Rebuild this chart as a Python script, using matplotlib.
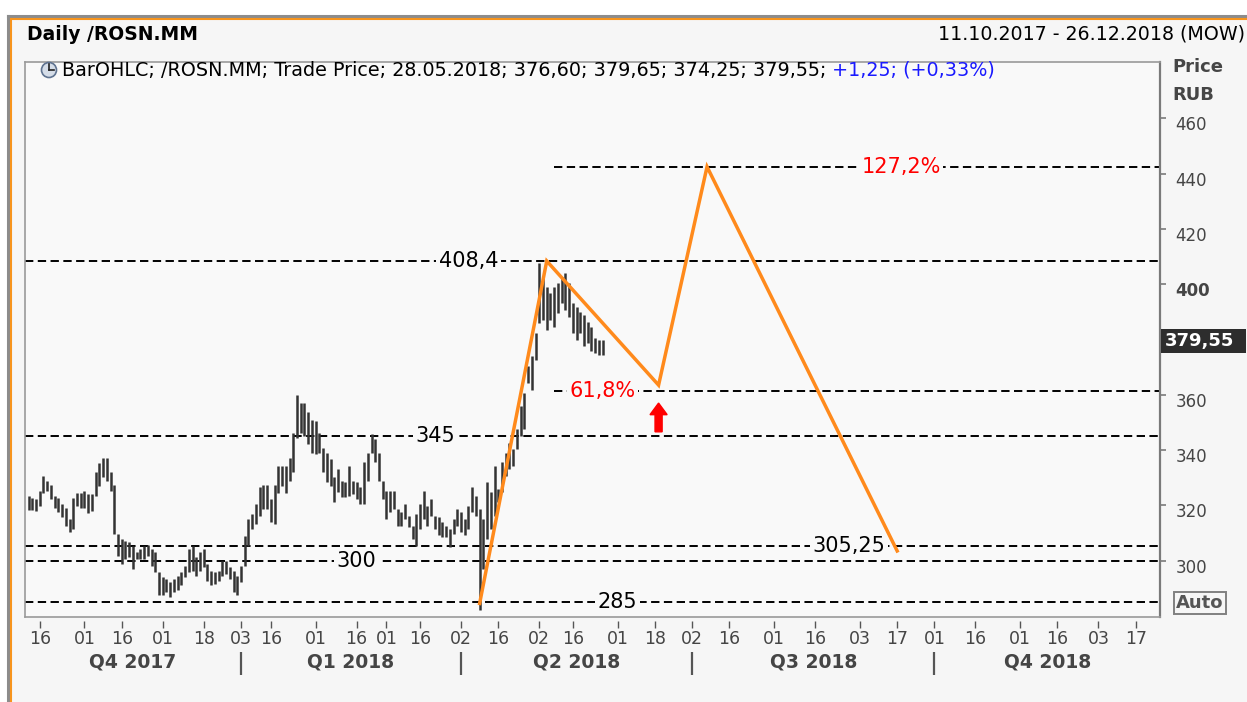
import numpy as np
import pandas as pd
import matplotlib
matplotlib.use("Agg")
import matplotlib.pyplot as plt
from matplotlib.patches import Rectangle, Ellipse, FancyArrow
from matplotlib.lines import Line2D
from matplotlib.transforms import ScaledTranslation

plt.rcParams["font.family"] = ["DejaVu Sans"]
plt.rcParams["lines.scale_dashes"] = False

# trading calendar shown on the time axis (weekdays minus exchange holidays)
holidays = ["2017-11-06", "2018-01-01", "2018-01-02", "2018-01-08", "2018-02-23",
            "2018-03-08", "2018-03-09", "2018-05-01", "2018-05-09", "2018-06-12",
            "2018-11-05"]
days = pd.bdate_range("2017-10-11", "2018-12-26", freq="C", holidays=holidays)
pos = {d.strftime("%Y-%m-%d"): i for i, d in enumerate(days)}

# daily bars 11.10.2017 - 28.05.2018
highs = [323.2, 322.5, 322.3, 325.2, 330.6, 328.8, 327.3, 323.4, 322.5, 320.4,
         319.2, 315.0, 322.5, 324.6, 324.6, 325.2, 324.0, 324.0, 332.1, 335.2,
         337.3, 337.3, 332.1, 327.3, 309.6, 307.8, 307.2, 306.6, 305.4, 303.0,
         304.2, 305.4, 305.6, 304.2, 303.0, 295.8, 294.0, 293.4, 292.2, 293.4,
         294.6, 295.8, 298.2, 304.2, 305.4, 301.2, 303.0, 304.2, 298.8, 296.4,
         295.8, 296.4, 300.0, 300.0, 297.6, 296.4, 294.6, 298.2, 309.0, 315.0,
         316.8, 320.4, 326.5, 327.3, 327.3, 322.2, 327.3, 334.1, 334.1, 334.1,
         337.3, 346.3, 360.1, 357.1, 357.1, 353.7, 351.0, 350.5, 346.3, 340.9,
         339.1, 336.7, 330.1, 333.1, 328.9, 328.3, 334.3, 328.9, 328.3, 326.5,
         335.5, 339.1, 345.7, 343.9, 339.1, 328.9, 325.3, 325.3, 325.3, 318.7,
         317.5, 320.5, 316.3, 312.7, 316.9, 320.5, 325.3, 319.9, 322.3, 316.3,
         315.7, 313.9, 312.7, 311.5, 315.1, 318.7, 317.5, 315.1, 319.9, 326.5,
         323.5, 318.7, 315.1, 328.3, 324.7, 334.3, 325.8, 335.5, 339.1, 342.7,
         340.3, 347.5, 355.9, 360.7, 370.3, 373.9, 382.3, 407.5, 402.1, 399.1,
         396.7, 399.1, 400.3, 402.7, 403.9, 400.3, 393.1, 391.9, 390.1, 388.9,
         386.5, 384.7, 380.5, 379.9, 379.65]
lows = [318.4, 318.3, 317.9, 319.8, 324.6, 325.2, 322.3, 319.2, 317.7, 315.6,
        312.4, 310.4, 311.4, 319.8, 319.2, 319.2, 317.2, 318.0, 323.4, 327.0,
        330.1, 328.9, 325.2, 309.6, 301.8, 298.8, 300.6, 301.2, 297.0, 300.6,
        300.6, 300.6, 301.6, 298.2, 295.8, 287.4, 287.4, 288.6, 286.8, 288.6,
        289.2, 291.0, 294.0, 295.8, 296.4, 294.6, 296.4, 297.6, 292.8, 291.0,
        291.6, 292.8, 294.6, 295.2, 293.4, 288.6, 287.4, 292.2, 298.2, 305.4,
        311.4, 313.2, 316.2, 318.7, 318.7, 313.8, 313.2, 324.6, 327.1, 324.6,
        328.9, 331.9, 344.5, 346.3, 345.1, 342.1, 339.1, 338.5, 339.1, 331.9,
        328.3, 327.1, 321.1, 324.7, 322.9, 322.9, 323.5, 324.1, 322.3, 320.5,
        320.5, 328.9, 339.1, 335.5, 328.9, 322.3, 315.1, 317.5, 318.7, 312.7,
        312.7, 315.1, 312.1, 307.9, 305.3, 311.5, 315.1, 312.7, 316.3, 311.5,
        309.1, 308.5, 308.5, 305.0, 309.7, 312.7, 310.3, 309.1, 311.5, 317.5,
        316.3, 282.1, 297.1, 307.9, 311.5, 316.3, 321.1, 324.7, 330.7, 333.1,
        334.3, 340.3, 345.1, 347.5, 364.3, 361.9, 372.7, 385.9, 387.1, 383.5,
        387.1, 384.7, 389.5, 393.1, 390.7, 388.3, 382.3, 379.9, 382.3, 377.5,
        378.7, 375.7, 375.1, 374.5, 374.25]
assert len(highs) == len(lows) == 155

last_date = "28.05.2018"
last_open, last_high, last_low, last_close = 376.60, 379.65, 374.25, 379.55
last_change, last_change_pct = 1.25, 0.33

# horizontal levels drawn on the chart
full_levels = [408.4, 345.0, 305.25, 300.0, 285.0]
full_labels = ["408,4", "345", "305,25", "300", "285"]
full_label_dates = ["2018-04-04", "2018-03-22", "2018-08-29", "2018-02-16", "2018-06-01"]
fib_levels = [442.5, 361.3]
fib_labels = ["127,2%", "61,8%"]
fib_label_dates = ["2018-09-18", "2018-05-28"]
fib_start = "2018-05-08"

# orange wave drawing
wave_dates = ["2018-04-09", "2018-05-04", "2018-06-19", "2018-07-06", "2018-09-17"]
wave_prices = [284.5, 408.4, 363.5, 442.5, 303.5]
arrow_date = "2018-06-19"
arrow_from, arrow_to = 346.6, 357.0

# axis labels
tick_dates = ["2017-10-16", "2017-11-01", "2017-11-16", "2017-12-01", "2017-12-18",
              "2018-01-03", "2018-01-16", "2018-02-01", "2018-02-16", "2018-03-01",
              "2018-03-16", "2018-04-02", "2018-04-16", "2018-05-02", "2018-05-16",
              "2018-06-01", "2018-06-18", "2018-07-02", "2018-07-16", "2018-08-01",
              "2018-08-16", "2018-09-03", "2018-09-17", "2018-10-01", "2018-10-16",
              "2018-11-01", "2018-11-16", "2018-12-03", "2018-12-17"]
quarter_starts = ["2018-01-03", "2018-04-02", "2018-07-02", "2018-10-01"]
quarter_names = ["Q4 2017", "Q1 2018", "Q2 2018", "Q3 2018", "Q4 2018"]
price_ticks = [300, 320, 340, 360, 400, 420, 440, 460]


def num(v):
    return f"{v:.2f}".replace(".", ",")


W, H = 1247, 702
fig = plt.figure(figsize=(W / 100, H / 100), dpi=100)
fig.patch.set_facecolor("white")

# panel background and frame
fig.add_artist(Rectangle((11 / W, 0), 1, 1 - 19 / H, transform=fig.transFigure,
                         facecolor="#f6f6f6", edgecolor="none", zorder=0))
fig.add_artist(Line2D([8 / W, 1], [1 - 16 / H] * 2, color="#8c8c8c", lw=2.2))
fig.add_artist(Line2D([10 / W, 1], [1 - 19 / H] * 2, color="#f7941d", lw=1.5))
fig.add_artist(Line2D([8 / W] * 2, [0, 1 - 16 / H], color="#8c8c8c", lw=2.2))
fig.add_artist(Line2D([11 / W] * 2, [0, 1 - 19 / H], color="#f7941d", lw=1.5))

ax = fig.add_axes([25 / W, 1 - 617 / H, 1135 / W, 555 / H])
ax.set_facecolor("#f9f9f9")
ax.set_xlim(-0.95, 303.5)
ax.set_ylim(279.6, 480.4)
for side in ["left", "top", "bottom"]:
    ax.spines[side].set_color("#9a9a9a")
    ax.spines[side].set_linewidth(1.2)
ax.spines["right"].set_color("#7a7a7a")
ax.spines["right"].set_linewidth(1.6)

# OHLC bars
ax.vlines(np.arange(len(highs)), lows, highs, color="#333333", lw=1.8, zorder=3)

bg = "#f9f9f9"
dash = (6, 3.2)
for lev, lab, d in zip(full_levels, full_labels, full_label_dates):
    ax.axhline(lev, color="black", lw=1.4, dashes=dash, zorder=2)
    ax.text(pos[d], lev, lab, ha="center", va="center", fontsize=15, color="black",
            bbox=dict(boxstyle="square,pad=0.12", fc=bg, ec="none"), zorder=4)
for lev, lab, d in zip(fib_levels, fib_labels, fib_label_dates):
    ax.plot([pos[fib_start], ax.get_xlim()[1]], [lev, lev], color="black", lw=1.4,
            dashes=dash, zorder=2)
    ax.text(pos[d], lev, lab, ha="center", va="center", fontsize=15, color="#ff0000",
            bbox=dict(boxstyle="square,pad=0.12", fc=bg, ec="none"), zorder=4)

ax.plot([pos[d] for d in wave_dates], wave_prices, color="#ff8a1c", lw=2.5,
        solid_joinstyle="miter", zorder=5)
ax.add_patch(FancyArrow(pos[arrow_date], arrow_from, 0, arrow_to - arrow_from,
                        width=1.9, head_width=4.6, head_length=4.2,
                        length_includes_head=True, color="#ff0000", zorder=6))

# right price axis
ax.yaxis.tick_right()
ax.set_yticks(price_ticks)
ax.set_yticklabels([str(t) for t in price_ticks])
ax.tick_params(axis="y", direction="out", length=4, width=1.2, color="#7a7a7a",
               labelsize=12, labelcolor="#454545", pad=7)
shift = ScaledTranslation(0, -0.05, fig.dpi_scale_trans)
for lab in ax.get_yticklabels():
    lab.set_transform(lab.get_transform() + shift)
    if lab.get_text() == "400":
        lab.set_fontweight("bold")

# time axis
xt = [pos[d] for d in tick_dates]
ax.set_xticks(xt)
ax.set_xticklabels([d[-2:] for d in tick_dates])
ax.tick_params(axis="x", length=0, labelsize=12.5, labelcolor="#454545", pad=9)
ax.vlines(xt, -0.008, -0.019, transform=ax.get_xaxis_transform(), color="#555555",
          lw=1.0, clip_on=False)
qx = [pos[d] for d in quarter_starts]
ax.vlines(qx, -0.063, -0.105, transform=ax.get_xaxis_transform(), color="#555555",
          lw=1.6, clip_on=False)
edges = [ax.get_xlim()[0]] + qx + [ax.get_xlim()[1]]
for name, a, b in zip(quarter_names, edges[:-1], edges[1:]):
    ax.text((a + b) / 2, -0.081, name, transform=ax.get_xaxis_transform(), ha="center",
            va="center", fontsize=13.5, fontweight="bold", color="#454545")

# last price marker on the axis
ax.add_patch(Rectangle((1.001, last_close - 4.3), 85 / 1135, 8.6,
                       transform=ax.get_yaxis_transform(), facecolor="#2d2d2d",
                       edgecolor="none", clip_on=False, zorder=6))
ax.text(1.004, last_close, num(last_close), transform=ax.get_yaxis_transform(),
        ha="left", va="center", fontsize=13, fontweight="bold", color="white", zorder=7)

# header texts
fig.text(27 / W, 1 - 34 / H, "Daily /ROSN.MM", fontsize=13.5, fontweight="bold",
         va="center", color="black")
fig.text(1245 / W, 1 - 34 / H, "11.10.2017 - 26.12.2018 (MOW)", fontsize=13.7,
         ha="right", va="center", color="black")
legend = (f"BarOHLC; /ROSN.MM; Trade Price; {last_date}; {num(last_open)}; "
          f"{num(last_high)}; {num(last_low)}; {num(last_close)};")
t1 = fig.text(62 / W, 1 - 70 / H, legend, fontsize=13.8, va="center", color="black")
ax.annotate(f" +{num(last_change)}; (+{num(last_change_pct)}%)", xy=(1, 0),
            xycoords=t1, va="bottom", ha="left", fontsize=13.8, color="#1a1aff")

# clock icon of the legend
fig.add_artist(Ellipse((49 / W, 1 - 70 / H), 15 / W, 15 / H, transform=fig.transFigure,
                       facecolor="#d5dde8", edgecolor="#5f7390", lw=1.2))
fig.add_artist(Line2D([49 / W, 49 / W], [1 - 70 / H, 1 - 64 / H], color="#222222", lw=1.2))
fig.add_artist(Line2D([49 / W, 54 / W], [1 - 70 / H, 1 - 70 / H], color="#222222", lw=1.2))

fig.text(1172 / W, 1 - 67 / H, "Price", fontsize=13, fontweight="bold", va="center",
         color="#454545")
fig.text(1172 / W, 1 - 95 / H, "RUB", fontsize=13, fontweight="bold", va="center",
         color="#454545")
fig.text(1200 / W, 1 - 603 / H, "Auto", fontsize=13, fontweight="bold", ha="center",
         va="center", color="#555555",
         bbox=dict(boxstyle="square,pad=0.12", fc="#f6f6f6", ec="#808080", lw=1.4))

fig.savefig("out.png", dpi=100, facecolor=fig.get_facecolor())
